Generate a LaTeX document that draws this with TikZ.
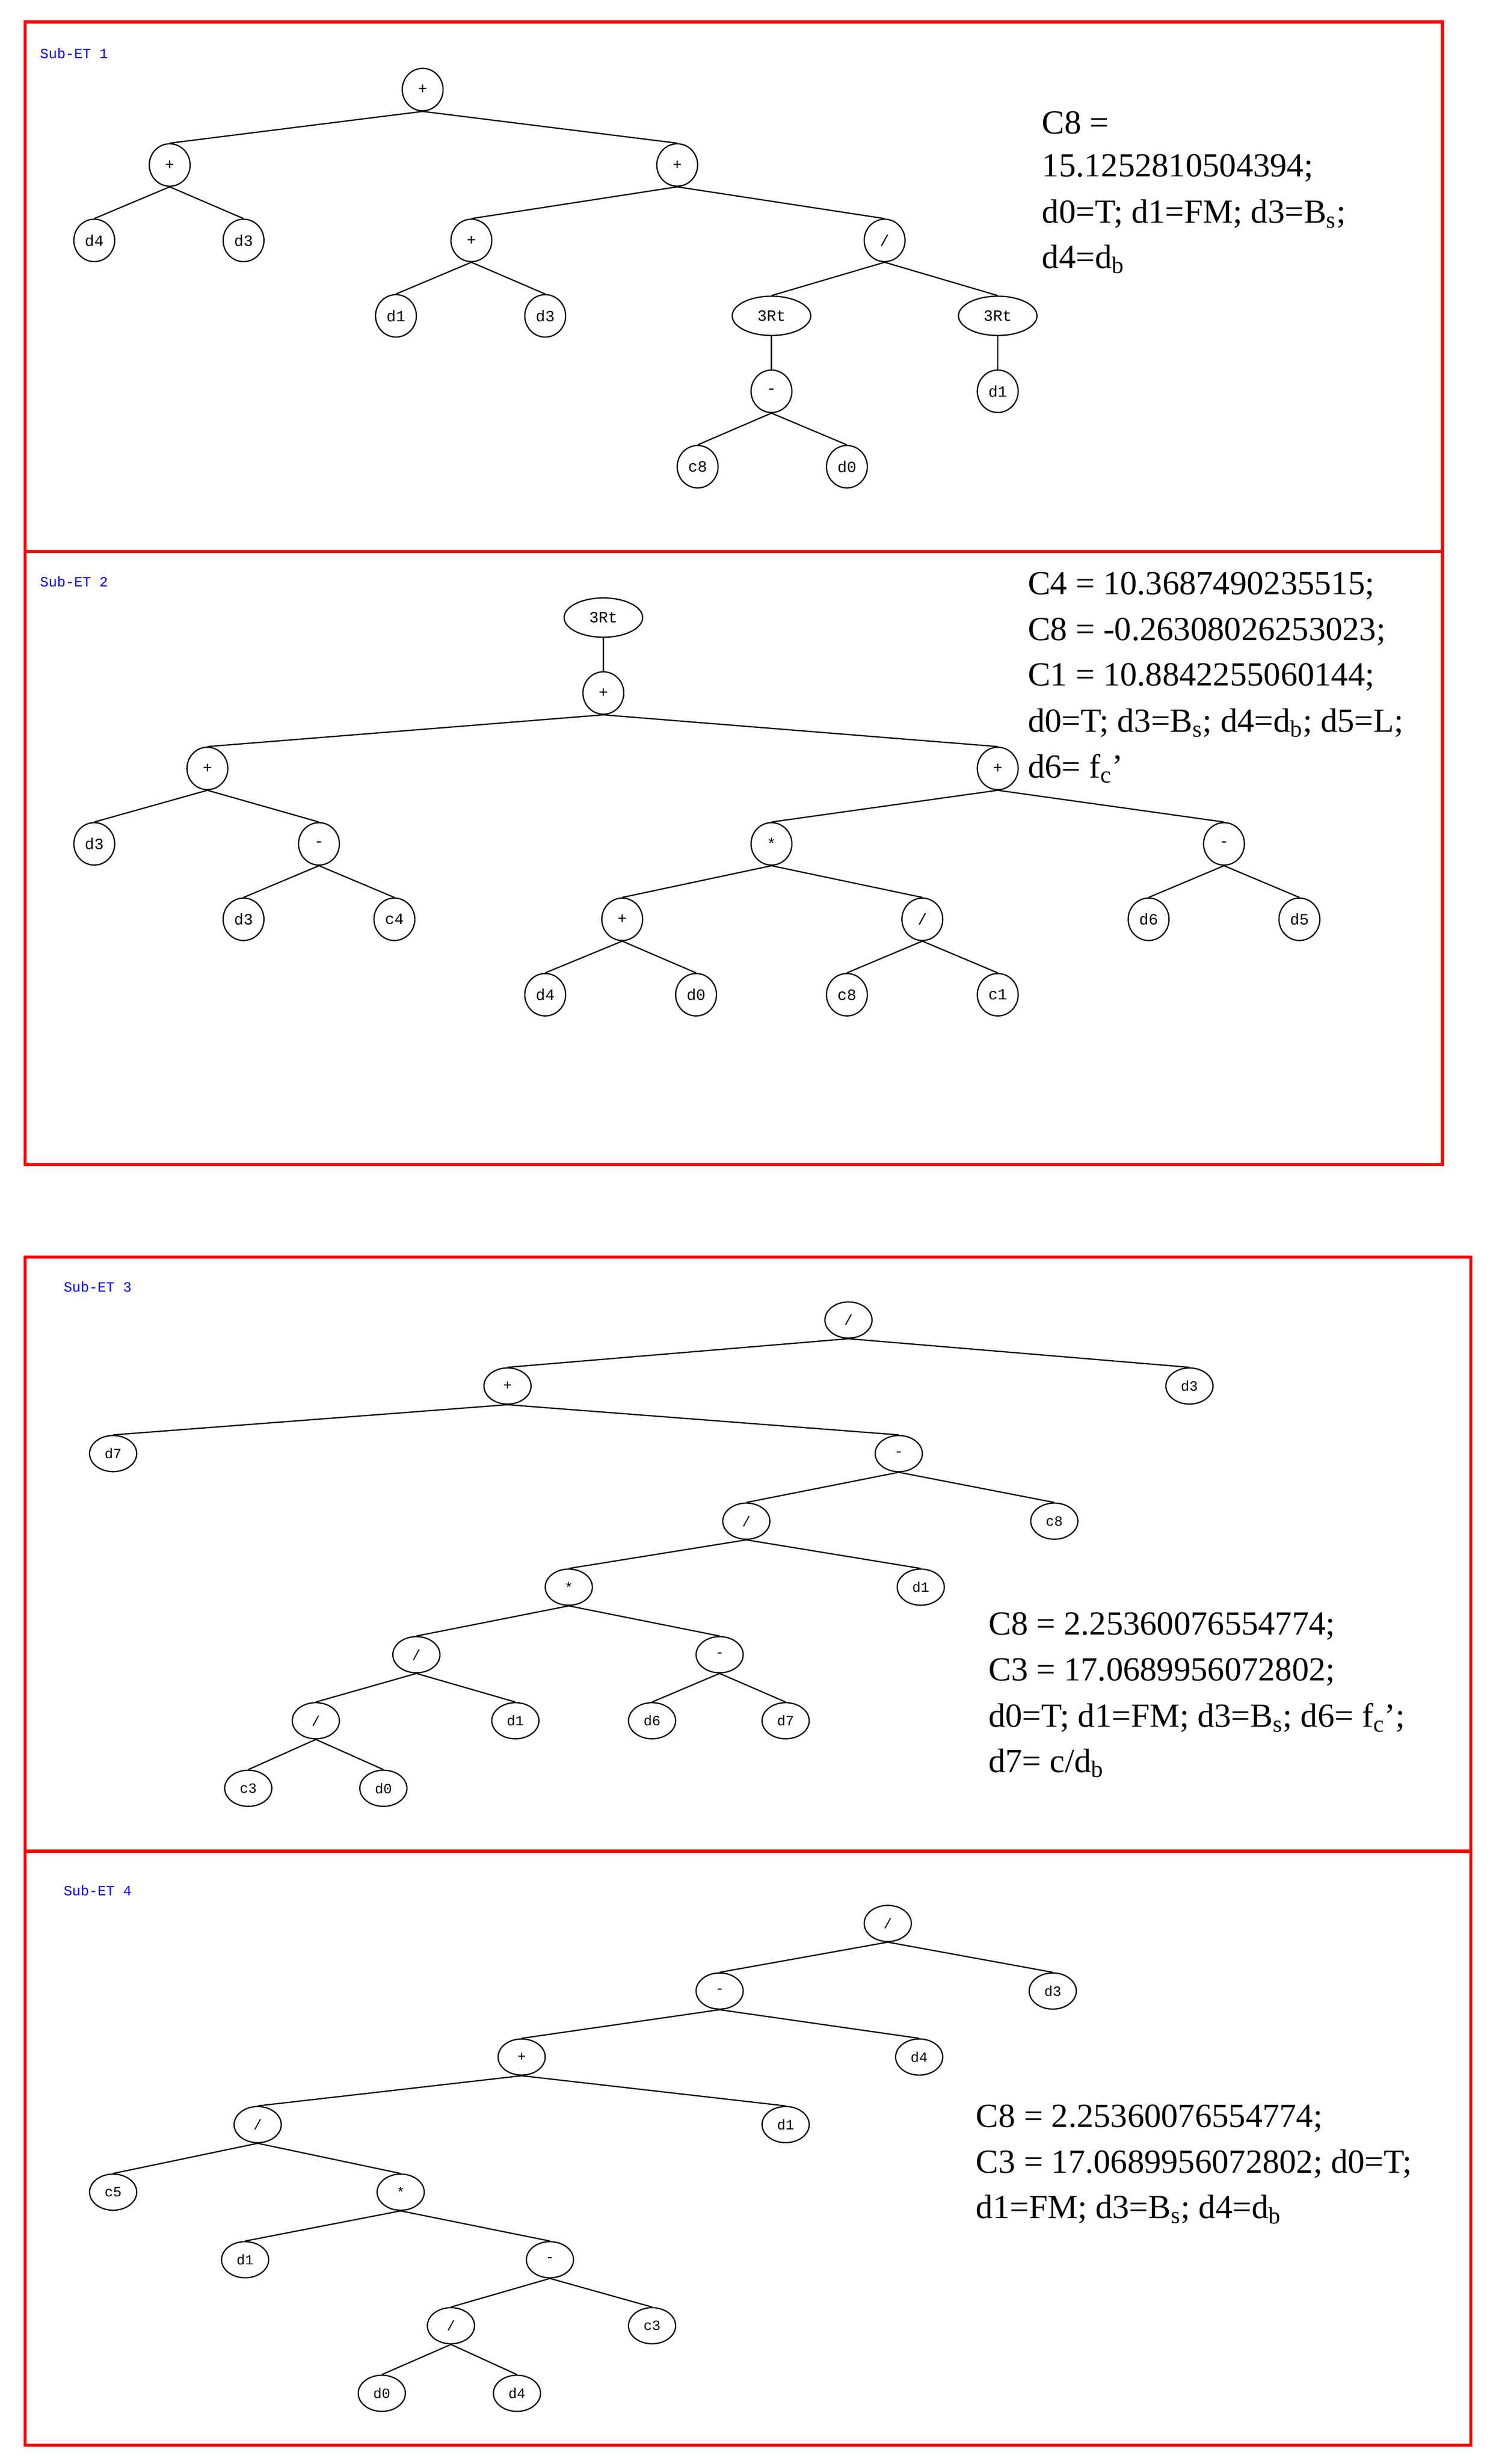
\documentclass[tikz,border=0pt]{standalone}
\usepackage{fontspec}
\setmainfont{Liberation Serif}
\newfontfamily\monof{Liberation Mono}
\usetikzlibrary{shapes.geometric}
\begin{document}
\begin{tikzpicture}[x=1pt,y=-1pt,
  nd/.style={ellipse,draw,line width=0.8pt,inner sep=0pt,minimum width=26pt,minimum height=27pt,font=\monof\fontsize{10}{10}\selectfont},
  wd/.style={nd,minimum width=50pt,minimum height=25pt},
  sm/.style={nd,minimum width=30pt,minimum height=23pt,font=\monof\fontsize{9}{9}\selectfont},
  ed/.style={line width=0.8pt},
  box/.style={draw=red,line width=2pt},
  ttl/.style={anchor=west,text=blue,font=\monof\fontsize{9}{9}\selectfont},
  info/.style={anchor=west,inner sep=0pt,font=\fontsize{21.5}{21.5}\selectfont}]
\useasboundingbox (0,0) rectangle (950,1568);
\draw[box] (16,14) rectangle (918,351);
\draw[box] (16,351) rectangle (918,741);
\draw[box] (16,800) rectangle (936,1178);
\draw[box] (16,1178) rectangle (936,1556);
\node[ttl] (t1) at (22,34) {Sub-ET 1};
\node[ttl] (t2) at (22,370) {Sub-ET 2};
\node[ttl] (t3) at (37,819) {Sub-ET 3};
\node[ttl] (t4) at (37,1203) {Sub-ET 4};
% tree 1
\node[nd] (a1) at (269,57) {+};
\node[nd] (a2) at (108,105) {+};
\node[nd] (a3) at (431,105) {+};
\node[nd] (a4) at (60,153) {d4};
\node[nd] (a5) at (155,153) {d3};
\node[nd] (a6) at (300,153) {+};
\node[nd] (a7) at (563,153) {/};
\node[nd] (a8) at (252,201) {d1};
\node[nd] (a9) at (347,201) {d3};
\node[wd] (a10) at (491,201) {3Rt};
\node[wd] (a11) at (635,201) {3Rt};
\node[nd] (a12) at (491,249) {-};
\node[nd] (a13) at (635,249) {d1};
\node[nd] (a14) at (444,297) {c8};
\node[nd] (a15) at (539,297) {d0};
\foreach \p/\c in {a1/a2,a1/a3,a2/a4,a2/a5,a3/a6,a3/a7,a6/a8,a6/a9,a7/a10,a7/a11,a10/a12,a11/a13,a12/a14,a12/a15}
  \draw[ed] (\p.south) -- (\c.north);
\node[info] (i1) at (663,78) {C8 =};
\node[info] (i2) at (663,107) {15.1252810504394;};
\node[info] (i3) at (663,136) {d0=T; d1=FM; d3=B\textsubscript{s};};
\node[info] (i4) at (663,165) {d4=d\textsubscript{b}};
% tree 2
\node[wd] (b1) at (384,393) {3Rt};
\node[nd] (b2) at (384,441) {+};
\node[nd] (b3) at (132,489) {+};
\node[nd] (b4) at (635,489) {+};
\node[nd] (b5) at (60,537) {d3};
\node[nd] (b6) at (203,537) {-};
\node[nd] (b7) at (491,537) {*};
\node[nd] (b8) at (779,537) {-};
\node[nd] (b9) at (155,585) {d3};
\node[nd] (b10) at (251,585) {c4};
\node[nd] (b11) at (396,585) {+};
\node[nd] (b12) at (587,585) {/};
\node[nd] (b13) at (731,585) {d6};
\node[nd] (b14) at (827,585) {d5};
\node[nd] (b15) at (347,633) {d4};
\node[nd] (b16) at (443,633) {d0};
\node[nd] (b17) at (539,633) {c8};
\node[nd] (b18) at (635,633) {c1};
\foreach \p/\c in {b1/b2,b2/b3,b2/b4,b3/b5,b3/b6,b4/b7,b4/b8,b6/b9,b6/b10,b7/b11,b7/b12,b8/b13,b8/b14,b11/b15,b11/b16,b12/b17,b12/b18}
  \draw[ed] (\p.south) -- (\c.north);
\node[info] (j1) at (654,373) {C4 = 10.3687490235515;};
\node[info] (j2) at (654,402) {C8 = -0.26308026253023;};
\node[info] (j3) at (654,431) {C1 = 10.8842255060144;};
\node[info] (j4) at (654,460) {d0=T; d3=B\textsubscript{s}; d4=d\textsubscript{b}; d5=L;};
\node[info] (j5) at (654,489) {d6= f\textsubscript{c}’};
% tree 3
\node[sm] (c1) at (540,840) {/};
\node[sm] (c2) at (323,882) {+};
\node[sm] (c3) at (757,882) {d3};
\node[sm] (c4) at (72,925) {d7};
\node[sm] (c5) at (572,925) {-};
\node[sm] (c6) at (475,968) {/};
\node[sm] (c7) at (671,968) {c8};
\node[sm] (c8) at (362,1010) {*};
\node[sm] (c9) at (586,1010) {d1};
\node[sm] (c10) at (265,1053) {/};
\node[sm] (c11) at (458,1053) {-};
\node[sm] (c12) at (201,1095) {/};
\node[sm] (c13) at (328,1095) {d1};
\node[sm] (c14) at (415,1095) {d6};
\node[sm] (c15) at (500,1095) {d7};
\node[sm] (c16) at (158,1138) {c3};
\node[sm] (c17) at (244,1138) {d0};
\foreach \p/\c in {c1/c2,c1/c3,c2/c4,c2/c5,c5/c6,c5/c7,c6/c8,c6/c9,c8/c10,c8/c11,c10/c12,c10/c13,c11/c14,c11/c15,c12/c16,c12/c17}
  \draw[ed] (\p.south) -- (\c.north);
\node[info] (k1) at (629,1035) {C8 = 2.25360076554774;};
\node[info] (k2) at (629,1064) {C3 = 17.0689956072802;};
\node[info] (k3) at (629,1093) {d0=T; d1=FM; d3=B\textsubscript{s}; d6= f\textsubscript{c}’;};
\node[info] (k4) at (629,1122) {d7= c/d\textsubscript{b}};
% tree 4
\node[sm] (e1) at (565,1224) {/};
\node[sm] (e2) at (458,1267) {-};
\node[sm] (e3) at (670,1267) {d3};
\node[sm] (e4) at (332,1309) {+};
\node[sm] (e5) at (585,1309) {d4};
\node[sm] (e6) at (164,1352) {/};
\node[sm] (e7) at (500,1352) {d1};
\node[sm] (e8) at (72,1395) {c5};
\node[sm] (e9) at (255,1395) {*};
\node[sm] (e10) at (156,1438) {d1};
\node[sm] (e11) at (350,1438) {-};
\node[sm] (e12) at (287,1480) {/};
\node[sm] (e13) at (415,1480) {c3};
\node[sm] (e14) at (243,1523) {d0};
\node[sm] (e15) at (329,1523) {d4};
\foreach \p/\c in {e1/e2,e1/e3,e2/e4,e2/e5,e4/e6,e4/e7,e6/e8,e6/e9,e9/e10,e9/e11,e11/e12,e11/e13,e12/e14,e12/e15}
  \draw[ed] (\p.south) -- (\c.north);
\node[info] (l1) at (621,1348) {C8 = 2.25360076554774;};
\node[info] (l2) at (621,1377) {C3 = 17.0689956072802; d0=T;};
\node[info] (l3) at (621,1406) {d1=FM; d3=B\textsubscript{s}; d4=d\textsubscript{b}};
\end{tikzpicture}
\end{document}
